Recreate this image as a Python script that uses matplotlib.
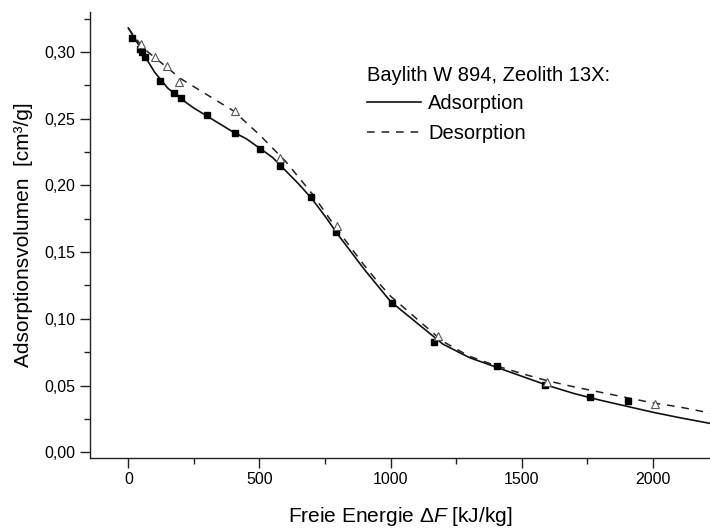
import numpy as np
import matplotlib
matplotlib.use("Agg")
import matplotlib.pyplot as plt
from matplotlib.ticker import FuncFormatter, MultipleLocator

plt.rcParams['font.family'] = ['Liberation Sans', 'DejaVu Sans']
plt.rcParams['mathtext.fontset'] = 'custom'
plt.rcParams['mathtext.it'] = 'Liberation Sans:italic'
plt.rcParams['mathtext.rm'] = 'Liberation Sans'

# measured points
ads_x = [13, 45, 51, 64, 121, 175, 201, 299, 407, 502, 579, 697, 792,
         1005, 1167, 1405, 1589, 1761, 1907]
ads_y = [0.3108, 0.3023, 0.3003, 0.2966, 0.2784, 0.2696, 0.2654, 0.2528,
         0.2391, 0.2271, 0.2146, 0.1916, 0.1654, 0.1117, 0.0829, 0.0647,
         0.0505, 0.0412, 0.0387]
des_x = [47, 102, 146, 195, 407, 579, 795, 1182, 1596, 2009]
des_y = [0.3058, 0.2966, 0.2898, 0.2778, 0.2561, 0.2204, 0.1696, 0.0872,
         0.0529, 0.0362]

# fitted curves
fit_x = [0, 25, 50, 75, 100, 150, 200, 250, 300, 350, 400, 450, 500, 550,
         600, 650, 700, 750, 800, 850, 900, 950, 1000, 1100, 1200, 1300,
         1400, 1500, 1600, 1700, 1800, 1900, 2000, 2100, 2230]
ads_fit = [0.318, 0.310, 0.302, 0.293, 0.285, 0.273, 0.265, 0.258, 0.252,
           0.246, 0.240, 0.235, 0.228, 0.221, 0.211, 0.201, 0.190, 0.177,
           0.163, 0.150, 0.137, 0.125, 0.113, 0.097, 0.081, 0.071, 0.064,
           0.057, 0.050, 0.044, 0.039, 0.0345, 0.0300, 0.0260, 0.0212]
des_fit = [0.318, 0.311, 0.305, 0.300, 0.296, 0.288, 0.280, 0.274, 0.268,
           0.262, 0.256, 0.247, 0.238, 0.228, 0.218, 0.206, 0.194, 0.180,
           0.166, 0.153, 0.140, 0.128, 0.117, 0.100, 0.083, 0.072, 0.065,
           0.059, 0.0535, 0.049, 0.045, 0.041, 0.037, 0.034, 0.029]

fig = plt.figure(figsize=(7.1, 5.3), dpi=100)
ax = fig.add_axes([89.5 / 710, 72 / 530, 620.5 / 710, 446 / 530])

ax.plot(fit_x, ads_fit, color='#111111', lw=1.2, label='Adsorption')
ax.plot(fit_x, des_fit, color='#222222', lw=1.1, dashes=(5, 4.5),
        label='Desorption')
ax.plot(ads_x, ads_y, ls='none', marker='s', ms=4.5, color='black')
ax.plot(des_x, des_y, ls='none', marker='^', ms=5.5, mfc='white',
        mec='#555555', mew=0.8)

ax.set_xlim(-148, 2218)
ax.set_ylim(-0.0043, 0.330)

ax.xaxis.set_major_locator(MultipleLocator(500))
ax.xaxis.set_minor_locator(MultipleLocator(250))
ax.yaxis.set_major_locator(MultipleLocator(0.05))
ax.yaxis.set_minor_locator(MultipleLocator(0.025))
ax.yaxis.set_major_formatter(FuncFormatter(lambda v, p: f"{v:.2f}".replace('.', ',')))

for s in ['top', 'right']:
    ax.spines[s].set_visible(False)
for s in ['left', 'bottom']:
    ax.spines[s].set_color('#222222')
    ax.spines[s].set_linewidth(1.0)

ax.tick_params(which='major', direction='out', length=7, width=1,
               labelsize=11.5, color='#222222', pad=3)
ax.tick_params(which='minor', direction='out', length=4, width=1,
               color='#222222')

ax.set_xlabel(r'Freie Energie $\mathit{\Delta F}$ [kJ/kg]', fontsize=15,
              labelpad=13)
ax.set_ylabel('Adsorptionsvolumen  [cm³/g]', fontsize=15, labelpad=8)

leg = ax.legend(title='Baylith W 894, Zeolith 13X:', loc='upper left',
                bbox_to_anchor=(0.447, 0.878), frameon=False, fontsize=14.5,
                title_fontsize=14.5, alignment='left', handlelength=2.7,
                handletextpad=0.35, labelspacing=0.55, borderaxespad=0,
                borderpad=0)
leg._legend_box.sep = 6

fig.savefig('out.png', dpi=100)
